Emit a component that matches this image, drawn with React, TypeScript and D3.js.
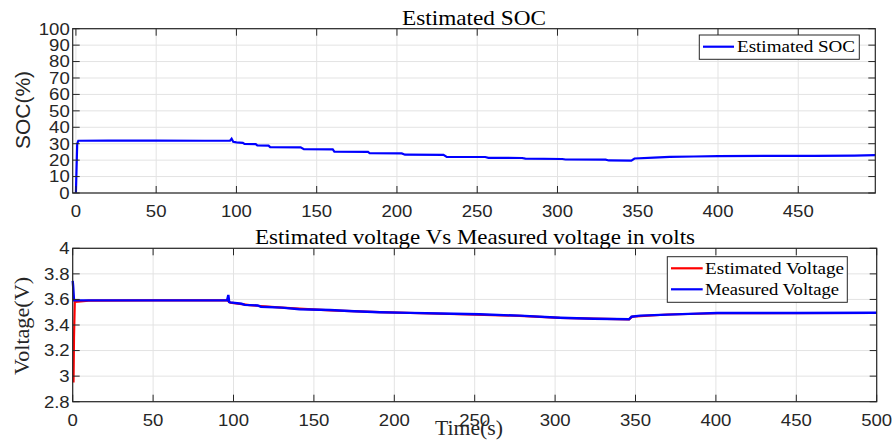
import React from 'react'
import * as d3 from 'd3'

// SOC trace (time in s, SOC in %)
const socTime = [0, 0.8, 1.5, 20, 50, 80, 96, 97, 98, 100, 104, 105, 112, 113, 120, 121, 140, 142, 160, 161, 182, 183, 203, 205, 229, 231, 255, 257, 278, 280, 303, 305, 330, 332, 346, 348, 360, 370, 385, 400, 430, 460, 485, 498]
const socValue = [0, 30, 31.8, 31.9, 31.9, 31.8, 31.8, 33, 31.2, 30.8, 30.5, 29.9, 29.8, 29.0, 28.8, 27.9, 27.8, 26.7, 26.5, 25.2, 25.0, 24.2, 24.1, 23.3, 23.2, 22.0, 21.9, 21.4, 21.3, 20.9, 20.7, 20.4, 20.3, 19.8, 19.7, 21.0, 21.5, 22.0, 22.2, 22.5, 22.6, 22.6, 22.8, 23.0]

// measured voltage trace
const measTime = [0, 0.3, 0.8, 10, 50, 96, 96.8, 97.3, 98, 105, 107, 115, 117, 130, 141, 160, 175, 191, 210, 229, 253, 278, 303, 324, 346, 347.5, 353, 370, 388, 401, 450, 500]
const measValue = [3.745, 3.7, 3.594, 3.593, 3.593, 3.593, 3.635, 3.58, 3.577, 3.566, 3.557, 3.553, 3.543, 3.536, 3.523, 3.517, 3.508, 3.5, 3.495, 3.49, 3.484, 3.473, 3.457, 3.449, 3.445, 3.465, 3.473, 3.481, 3.489, 3.494, 3.494, 3.496]

// estimated voltage trace
const estTime = [0.5, 0.8, 1.3, 10, 50, 96, 98, 110, 130, 160, 191, 229, 278, 303, 346, 348, 370, 401, 500]
const estValue = [2.95, 3.3, 3.58, 3.59, 3.592, 3.592, 3.575, 3.555, 3.536, 3.515, 3.5, 3.488, 3.472, 3.456, 3.444, 3.466, 3.482, 3.492, 3.494]

const socTicks = [0, 10, 20, 30, 40, 50, 60, 70, 80, 90, 100]
const topTimeTicks = [0, 50, 100, 150, 200, 250, 300, 350, 400, 450]
const voltTicks = [2.8, 3, 3.2, 3.4, 3.6, 3.8, 4]
const bottomTimeTicks = [0, 50, 100, 150, 200, 250, 300, 350, 400, 450, 500]

const AX = '#262626'
const GRID = '#e3e3e3'
const SANS = '"Liberation Sans", Arial, sans-serif'
const SERIF = '"Liberation Serif", "Times New Roman", serif'
const TICK = 7
const LBL = 16
const STRETCH = 1.16

type Pt = [number, number]

function Grid({ x, y, xTicks, yTicks }: any) {
  const [x0, x1] = x.range()
  const [y0, y1] = y.range()
  return (
    <g>
      {xTicks.map((t: number) => (
        <line key={'gx' + t} x1={x(t)} x2={x(t)} y1={y0} y2={y1} stroke={GRID} />
      ))}
      {yTicks.map((t: number) => (
        <line key={'gy' + t} x1={x0} x2={x1} y1={y(t)} y2={y(t)} stroke={GRID} />
      ))}
    </g>
  )
}

function Box({ x, y, xTicks, yTicks, xFmt, yFmt }: any) {
  const [x0, x1] = x.range()
  const [y0, y1] = y.range()
  return (
    <g>
      <rect x={x0} y={y1} width={x1 - x0} height={y0 - y1} fill="none" stroke={AX} strokeWidth={1.2} />
      {xTicks.map((t: number) => (
        <g key={'tx' + t}>
          <line x1={x(t)} x2={x(t)} y1={y0} y2={y0 - TICK} stroke={AX} />
          <line x1={x(t)} x2={x(t)} y1={y1} y2={y1 + TICK} stroke={AX} />
          <text transform={`translate(${x(t)},${y0 + 24}) scale(${STRETCH},1)`} textAnchor="middle" fontFamily={SANS} fontSize={LBL} fill={AX}>
            {xFmt(t)}
          </text>
        </g>
      ))}
      {yTicks.map((t: number) => (
        <g key={'ty' + t}>
          <line x1={x0} x2={x0 + TICK} y1={y(t)} y2={y(t)} stroke={AX} />
          <line x1={x1} x2={x1 - TICK} y1={y(t)} y2={y(t)} stroke={AX} />
          <text transform={`translate(${x0 - 3},${y(t) + 5.8}) scale(${STRETCH},1)`} textAnchor="end" fontFamily={SANS} fontSize={LBL} fill={AX}>
            {yFmt(t)}
          </text>
        </g>
      ))}
    </g>
  )
}

export default function App() {
  // top panel: SOC
  const xTop = d3.scaleLinear().domain([-2, 498]).range([72.7, 875.3])
  const yTop = d3.scaleLinear().domain([0, 100]).range([193, 28.7])
  // bottom panel: voltage
  const xBot = d3.scaleLinear().domain([0, 500]).range([72.7, 876.7])
  const yBot = d3.scaleLinear().domain([2.8, 4]).range([401.7, 248.3])

  const socLine = d3.line<Pt>().x((d) => xTop(d[0])).y((d) => yTop(d[1]))
  const vLine = d3.line<Pt>().x((d) => xBot(d[0])).y((d) => yBot(d[1]))

  const socPts: Pt[] = socTime.map((t, i) => [t, socValue[i]])
  const measPts: Pt[] = measTime.map((t, i) => [t, measValue[i]])
  const estPts: Pt[] = estTime.map((t, i) => [t, estValue[i]])

  const fmtInt = (d: number) => String(d)
  const fmtV = (d: number) => d3.format('~g')(d)

  return (
    <svg width={892} height={445} style={{ position: 'absolute', left: 0, top: 0, background: '#fff' }}>
      <rect width={892} height={445} fill="#fff" />

      {/* top panel */}
      <Grid x={xTop} y={yTop} xTicks={topTimeTicks} yTicks={socTicks} />
      <path d={socLine(socPts) || ''} fill="none" stroke="#0000ff" strokeWidth={2.2} />
      <Box x={xTop} y={yTop} xTicks={topTimeTicks} yTicks={socTicks} xFmt={fmtInt} yFmt={fmtInt} />
      <text x={474} y={25} textAnchor="middle" fontFamily={SERIF} fontSize={21} textLength={144} lengthAdjust="spacingAndGlyphs" fill="#000">
        Estimated SOC
      </text>
      <text transform="translate(30,110) rotate(-90)" textAnchor="middle" fontFamily={SANS} fontSize={21} fill={AX}>
        SOC(%)
      </text>
      <g>
        <rect x={699.3} y={35} width={160} height={24.3} fill="#fff" stroke={AX} strokeWidth={1} />
        <line x1={703} x2={734} y1={46.7} y2={46.7} stroke="#0000ff" strokeWidth={2.2} />
        <text x={737} y={52} fontFamily={SERIF} fontSize={16} textLength={118} lengthAdjust="spacingAndGlyphs" fill="#000">
          Estimated SOC
        </text>
      </g>

      {/* bottom panel */}
      <Grid x={xBot} y={yBot} xTicks={bottomTimeTicks} yTicks={voltTicks} />
      <path d={vLine(estPts) || ''} fill="none" stroke="#ff0000" strokeWidth={2.2} />
      <path d={vLine(measPts) || ''} fill="none" stroke="#0000ff" strokeWidth={2.4} />
      <Box x={xBot} y={yBot} xTicks={bottomTimeTicks} yTicks={voltTicks} xFmt={fmtInt} yFmt={fmtV} />
      <text x={475} y={243.7} textAnchor="middle" fontFamily={SERIF} fontSize={21} textLength={440} lengthAdjust="spacingAndGlyphs" fill="#000">
        Estimated voltage Vs Measured voltage in volts
      </text>
      <text transform="translate(29,326) rotate(-90)" textAnchor="middle" fontFamily={SERIF} fontSize={21} textLength={98} lengthAdjust="spacingAndGlyphs" fill={AX}>
        Voltage(V)
      </text>
      <text x={469} y={435} textAnchor="middle" fontFamily={SERIF} fontSize={20} textLength={68} lengthAdjust="spacingAndGlyphs" fill={AX}>
        Time(s)
      </text>
      <g>
        <rect x={667.3} y={256.7} width={180} height={45.6} fill="#fff" stroke={AX} strokeWidth={1} />
        <line x1={671} x2={702.7} y1={268.3} y2={268.3} stroke="#ff0000" strokeWidth={2.2} />
        <text x={705} y={273.5} fontFamily={SERIF} fontSize={16} textLength={139} lengthAdjust="spacingAndGlyphs" fill="#000">
          Estimated Voltage
        </text>
        <line x1={671} x2={702.7} y1={289.3} y2={289.3} stroke="#0000ff" strokeWidth={2.2} />
        <text x={705} y={294.5} fontFamily={SERIF} fontSize={16} textLength={134} lengthAdjust="spacingAndGlyphs" fill="#000">
          Measured Voltage
        </text>
      </g>
    </svg>
  )
}
